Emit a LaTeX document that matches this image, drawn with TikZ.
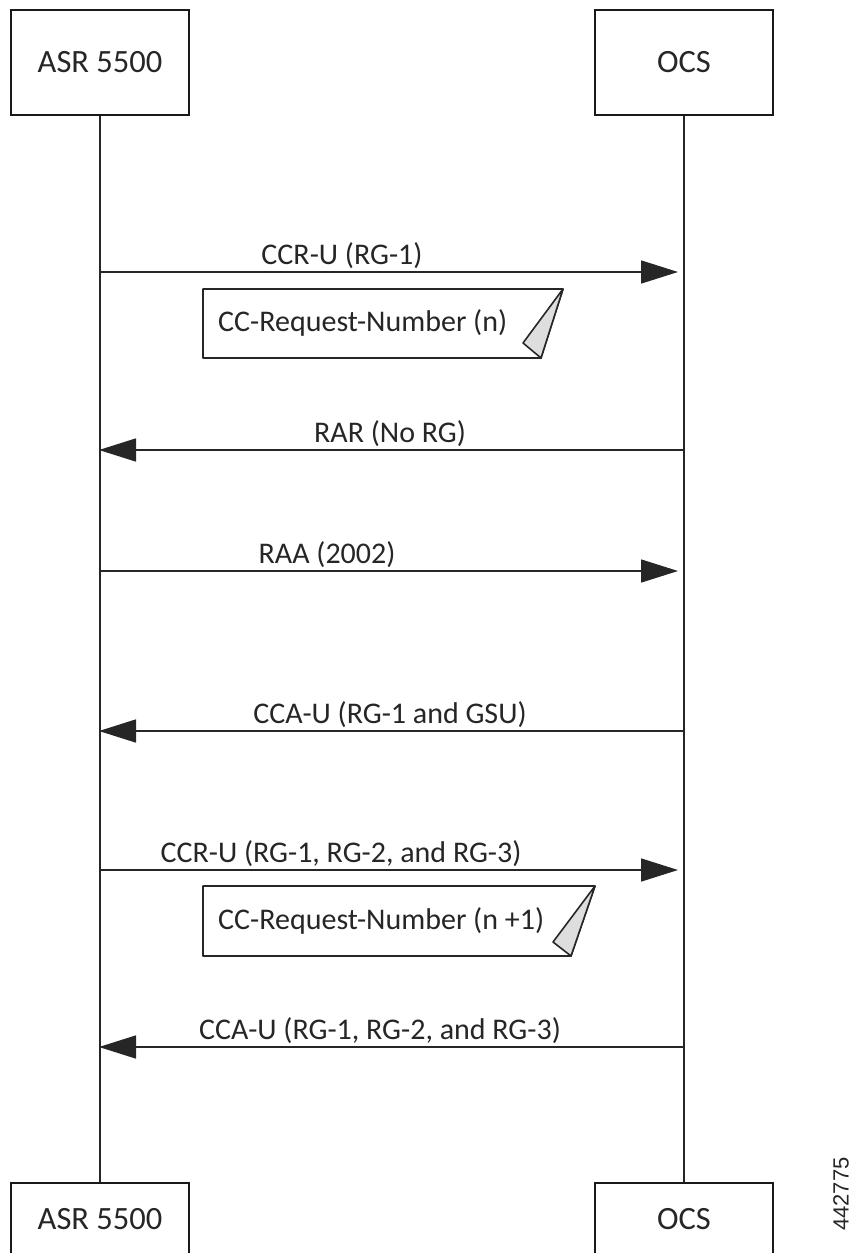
\documentclass[tikz,border=0pt]{standalone}
\usepackage{fontspec}
\setmainfont{Carlito}
\newfontfamily\numfont{Liberation Sans}
\usetikzlibrary{arrows.meta}
\begin{document}
\begin{tikzpicture}[x=1pt,y=-1pt,
  actor/.style={draw=black!90, line width=1.8pt, minimum width=178pt, inner sep=0pt, font=\fontsize{32.5}{36}\selectfont, text=black!85},
  life/.style={draw=black!85, line width=1.6pt},
  msgR/.style={draw=black!85, line width=1.6pt, -{Triangle[length=37pt,width=23pt]}, shorten >=6pt},
  msgL/.style={draw=black!85, line width=1.6pt, -{Triangle[length=37pt,width=23pt]}, shorten >=-1pt},
  lbl/.style={font=\fontsize{30}{34}\selectfont, anchor=base, text=black!85, inner sep=0pt},
  notebox/.style={draw=black!85, line width=1.6pt, fill=white, line join=round},
  fold/.style={draw=black!85, line width=1.6pt, fill=black!13, line join=round},
  notetext/.style={font=\fontsize{30}{34}\selectfont, anchor=west, text=black!85, inner sep=0pt},
  idnum/.style={font=\numfont\fontsize{22}{26}\selectfont, rotate=90, text=black!85, inner sep=0pt}
]
\useasboundingbox (0,0) rectangle (851,1253);
\fill[white] (0,0) rectangle (851,1253);
\begin{scope}
\clip (0,0) rectangle (851,1253);
% actors
\node[actor, minimum height=105pt] (asrT) at (100,62.5) {ASR 5500};
\node[actor, minimum height=105pt] (ocsT) at (684,62.5) {OCS};
\node[actor, minimum height=73pt, anchor=north] (asrB) at (100,1182) {ASR 5500};
\node[actor, minimum height=73pt, anchor=north] (ocsB) at (684,1182) {OCS};
% lifelines
\draw[life] (asrT.south) -- (asrB.north);
\draw[life] (ocsT.south) -- (ocsB.north);
% lifeline points
\coordinate (a1) at (100,272); \coordinate (o1) at (684,272);
\coordinate (a2) at (100,450); \coordinate (o2) at (684,450);
\coordinate (a3) at (100,571); \coordinate (o3) at (684,571);
\coordinate (a4) at (100,731); \coordinate (o4) at (684,731);
\coordinate (a5) at (100,870); \coordinate (o5) at (684,870);
\coordinate (a6) at (100,1047); \coordinate (o6) at (684,1047);
% messages
\draw[msgR] (a1) -- (o1);
\node[lbl] (l1) at (342,264) {CCR-U (RG-1)};
\draw[msgL] (o2) -- (a2);
\node[lbl] (l2) at (390,442) {RAR (No RG)};
\draw[msgR] (a3) -- (o3);
\node[lbl] (l3) at (327,563) {RAA (2002)};
\draw[msgL] (o4) -- (a4);
\node[lbl] (l4) at (390,723) {CCA-U (RG-1 and GSU)};
\draw[msgR] (a5) -- (o5);
\node[lbl] (l5) at (341,862) {CCR-U (RG-1, RG-2, and RG-3)};
\draw[msgL] (o6) -- (a6);
\node[lbl] (l6) at (380,1039) {CCA-U (RG-1, RG-2, and RG-3)};
% note 1
\draw[notebox] (203,289) -- (563,289) -- (541,358) -- (203,358) -- cycle;
\draw[fold] (563,289) -- (523,343) -- (541,358) -- cycle;
\node[notetext] (n1) at (218,323) {CC-Request-Number (n)};
% note 2
\draw[notebox] (203,886) -- (595,886) -- (571,956) -- (203,956) -- cycle;
\draw[fold] (595,886) -- (553,942) -- (571,956) -- cycle;
\node[notetext] (n2) at (218,921) {CC-Request-Number (n +1)};
% id
\node[idnum] (id) at (841,1194) {442775};
\end{scope}
\end{tikzpicture}
\end{document}
